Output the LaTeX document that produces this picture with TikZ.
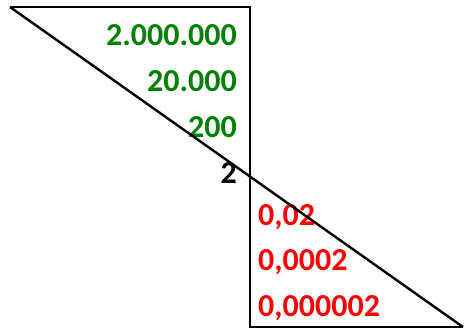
\documentclass[tikz,border=0pt]{standalone}
\usepackage{fontspec}
\setmainfont{Carlito}
\usepackage{xcolor}
\usepackage{tikz}

\definecolor{posgreen}{RGB}{0,128,0}
\definecolor{negred}{RGB}{255,0,0}

\begin{document}
\begin{tikzpicture}[
    x=1pt, y=-1pt,
    line width=2.4pt,
    every node/.style={font=\bfseries\fontsize{32}{36}\selectfont, inner sep=0pt},
    big/.style={text=posgreen, anchor=base east},
    small/.style={text=negred, anchor=base west}
  ]
    \useasboundingbox (0,0) rectangle (465,330);
    \coordinate (TL) at (10,7);
    \coordinate (TR) at (250,7);
    \coordinate (BL) at (250,327);
    \coordinate (BR) at (463,327);
    \node[big] (m6) at (238,45) {2.000.000};
    \node[big] (m4) at (238,91) {20.000};
    \node[big] (m2) at (238,137) {200};
    \node[anchor=base east] (one) at (238,183) {2};
    \node[small] (d2) at (257,225) {0,02};
    \node[small] (d4) at (257,270) {0,0002};
    \node[small] (d6) at (257,316) {0,000002};
    \draw (TL) -- (TR) -- (BL) -- (BR);
    \draw (TL) -- (BR);
  \end{tikzpicture}
\end{document}
